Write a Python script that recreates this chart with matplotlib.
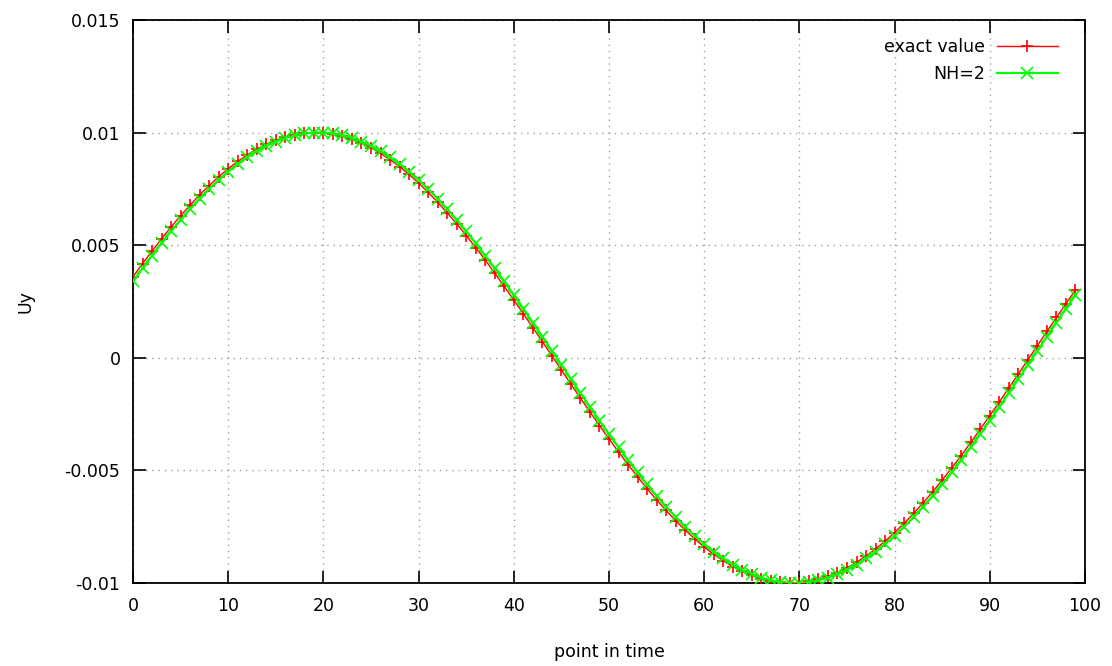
"""
Exact value vs NH=2 approximation of Uy over time (gnuplot-style line chart).
"""
import matplotlib
matplotlib.use("Agg")
import matplotlib.pyplot as plt
import numpy as np

# values, in units of 0.01
exact_vals = [
    0.360, 0.418, 0.474, 0.528, 0.581, 0.631, 0.678, 0.723, 0.765, 0.804,
    0.840, 0.872, 0.901, 0.927, 0.948, 0.966, 0.981, 0.991, 0.997, 1.000,
    0.999, 0.993, 0.984, 0.971, 0.954, 0.933, 0.908, 0.880, 0.849, 0.814,
    0.776, 0.735, 0.691, 0.644, 0.595, 0.543, 0.489, 0.434, 0.376, 0.317,
    0.257, 0.196, 0.134, 0.072, 0.009, -0.054, -0.117, -0.179, -0.240, -0.301,
    -0.360, -0.418, -0.474, -0.528, -0.581, -0.631, -0.678, -0.723, -0.765, -0.804,
    -0.840, -0.872, -0.901, -0.927, -0.948, -0.966, -0.981, -0.991, -0.997, -1.000,
    -0.999, -0.993, -0.984, -0.971, -0.954, -0.933, -0.908, -0.880, -0.849, -0.814,
    -0.776, -0.735, -0.691, -0.644, -0.595, -0.543, -0.489, -0.434, -0.376, -0.317,
    -0.257, -0.196, -0.134, -0.072, -0.009, 0.054, 0.117, 0.179, 0.240, 0.301,
]
nh2_vals = [
    0.339, 0.397, 0.454, 0.509, 0.562, 0.613, 0.661, 0.707, 0.750, 0.790,
    0.827, 0.861, 0.891, 0.918, 0.941, 0.960, 0.976, 0.988, 0.996, 1.000,
    1.000, 0.996, 0.988, 0.976, 0.960, 0.941, 0.918, 0.891, 0.861, 0.827,
    0.790, 0.750, 0.707, 0.661, 0.613, 0.562, 0.509, 0.454, 0.397, 0.339,
    0.279, 0.218, 0.156, 0.094, 0.031, -0.031, -0.094, -0.156, -0.218, -0.279,
    -0.339, -0.397, -0.454, -0.509, -0.562, -0.613, -0.661, -0.707, -0.750, -0.790,
    -0.827, -0.861, -0.891, -0.918, -0.941, -0.960, -0.976, -0.988, -0.996, -1.000,
    -1.000, -0.996, -0.988, -0.976, -0.960, -0.941, -0.918, -0.891, -0.861, -0.827,
    -0.790, -0.750, -0.707, -0.661, -0.613, -0.562, -0.509, -0.454, -0.397, -0.339,
    -0.279, -0.218, -0.156, -0.094, -0.031, 0.031, 0.094, 0.156, 0.218, 0.279,
]
x_ticks = [0, 10, 20, 30, 40, 50, 60, 70, 80, 90, 100]
y_ticks = [-0.01, -0.005, 0, 0.005, 0.01, 0.015]
y_tick_labels = ["-0.01", "-0.005", "0", "0.005", "0.01", "0.015"]

t = np.arange(len(exact_vals))
exact = np.array(exact_vals) * 0.01
nh2 = np.array(nh2_vals) * 0.01

plt.rcParams["font.family"] = "DejaVu Sans"
FS = 12.5

fig = plt.figure(figsize=(11.12, 6.66), dpi=100)
ax = fig.add_axes([0.1196, 0.1246, 0.8561, 0.8454])

ax.plot(t, exact, color="#ff0000", linewidth=1.0, marker="+",
        markersize=9, markeredgewidth=1.2, label="exact value", zorder=3)
ax.plot(t, nh2, color="#00ff00", linewidth=1.6, marker="x",
        markersize=8, markeredgewidth=1.2, label="NH=2", zorder=4)

ax.set_xlim(0, 100)
ax.set_ylim(-0.01, 0.015)
ax.set_xticks(x_ticks)
ax.set_yticks(y_ticks)
ax.set_yticklabels(y_tick_labels)

ax.grid(True, color="#a0a0a0", linestyle=(0, (1, 3.5)), linewidth=1.0)
ax.tick_params(direction="in", top=True, right=True, length=9, width=1.2,
               labelsize=FS, colors="black")
ax.tick_params(axis="x", pad=10)
ax.tick_params(axis="y", pad=9)
for sp in ax.spines.values():
    sp.set_linewidth(1.3)
    sp.set_color("black")

ax.set_xlabel("point in time", fontsize=FS, labelpad=20)
ax.set_ylabel("Uy", fontsize=FS, labelpad=22)

ax.legend(loc="upper right", frameon=False, markerfirst=False,
          fontsize=FS, handlelength=3.5, handletextpad=0.7,
          borderaxespad=0.9, labelspacing=0.5,
          bbox_to_anchor=(0.995, 1.008))

plt.savefig("out.png", dpi=100)
